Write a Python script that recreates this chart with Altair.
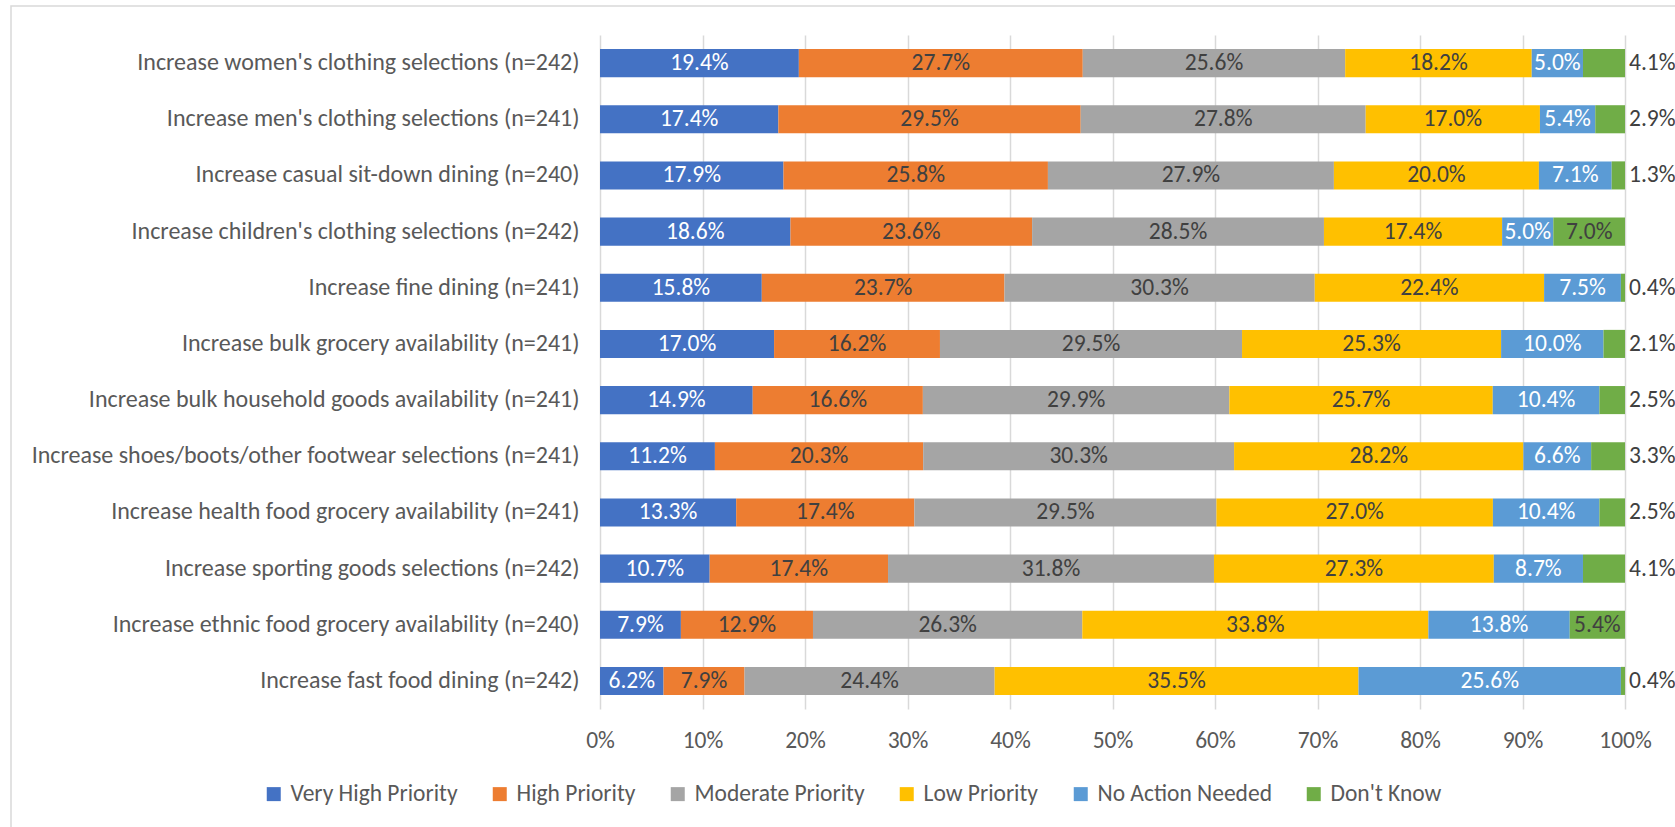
import altair as alt
import pandas as pd

# Survey items, top to bottom
categories = [
    "Increase women's clothing selections (n=242)",
    "Increase men's clothing selections (n=241)",
    "Increase casual sit-down dining (n=240)",
    "Increase children's clothing selections (n=242)",
    "Increase fine dining (n=241)",
    "Increase bulk grocery availability (n=241)",
    "Increase bulk household goods availability (n=241)",
    "Increase shoes/boots/other footwear selections (n=241)",
    "Increase health food grocery availability (n=241)",
    "Increase sporting goods selections (n=242)",
    "Increase ethnic food grocery availability (n=240)",
    "Increase fast food dining (n=242)",
]

series = [
    "Very High Priority",
    "High Priority",
    "Moderate Priority",
    "Low Priority",
    "No Action Needed",
    "Don't Know",
]

# Percentages per response level, in category order
very_high = [19.4, 17.4, 17.9, 18.6, 15.8, 17.0, 14.9, 11.2, 13.3, 10.7, 7.9, 6.2]
high = [27.7, 29.5, 25.8, 23.6, 23.7, 16.2, 16.6, 20.3, 17.4, 17.4, 12.9, 7.9]
moderate = [25.6, 27.8, 27.9, 28.5, 30.3, 29.5, 29.9, 30.3, 29.5, 31.8, 26.3, 24.4]
low = [18.2, 17.0, 20.0, 17.4, 22.4, 25.3, 25.7, 28.2, 27.0, 27.3, 33.8, 35.5]
no_action = [5.0, 5.4, 7.1, 5.0, 7.5, 10.0, 10.4, 6.6, 10.4, 8.7, 13.8, 25.6]
dont_know = [4.1, 2.9, 1.3, 7.0, 0.4, 2.1, 2.5, 3.3, 2.5, 4.1, 5.4, 0.4]

colors = ["#4472C4", "#ED7D31", "#A5A5A5", "#FFC000", "#5B9BD5", "#70AD47"]

values_by_series = [very_high, high, moderate, low, no_action, dont_know]

rows = []
for s_idx, (name, vals) in enumerate(zip(series, values_by_series)):
    for cat, v in zip(categories, vals):
        rows.append({"category": cat, "series": name, "order": s_idx, "value": v})
df = pd.DataFrame(rows)

FONT = "Carlito, Lato, sans-serif"
FS = 23.5

base = (
    alt.Chart(df)
    .transform_stack(
        stack="value",
        groupby=["category"],
        as_=["x0", "x1"],
        offset="normalize",
        sort=[alt.SortField("order", order="ascending")],
    )
    .transform_calculate(
        mid="(datum.x0 + datum.x1) / 2",
        label="format(datum.value, '.1f') + '%'",
        inside="datum.value >= 5",
        tc="(datum.series == 'Very High Priority' || datum.series == 'No Action Needed') ? 'white' : '#404040'",
    )
)

y_enc = alt.Y(
    "category:N",
    sort=categories,
    title=None,
    scale=alt.Scale(paddingInner=0.5, paddingOuter=0.25),
    axis=alt.Axis(
        domain=False,
        ticks=False,
        labelPadding=21,
        labelFont=FONT,
        labelFontSize=24,
        labelColor="#595959",
        labelLimit=700,
    ),
)

bars = base.mark_bar().encode(
    x=alt.X(
        "x0:Q",
        title=None,
        scale=alt.Scale(domain=[0, 1], nice=False),
        axis=alt.Axis(
            format="%",
            values=[i / 10 for i in range(11)],
            grid=True,
            gridColor="#d9d9d9",
            gridWidth=1.5,
            domain=False,
            ticks=False,
            labelFlush=False,
            labelPadding=19,
            labelFont=FONT,
            labelFontSize=FS,
            labelColor="#595959",
        ),
    ),
    x2="x1:Q",
    y=y_enc,
    color=alt.Color(
        "series:N",
        sort=series,
        scale=alt.Scale(domain=series, range=colors),
        legend=alt.Legend(
            title=None,
            orient="none",
            direction="horizontal",
            legendX=-338,
            legendY=747,
            symbolType="square",
            symbolSize=196,
            symbolStrokeWidth=0,
            labelFont=FONT,
            labelFontSize=FS,
            labelColor="#595959",
            labelOffset=5,
            columnPadding=30,
            labelLimit=400,
        ),
    ),
    order=alt.Order("order:Q"),
)

inside_text = (
    base.transform_filter("datum.inside")
    .mark_text(font=FONT, fontSize=FS, baseline="middle", align="center")
    .encode(
        x="mid:Q",
        y=alt.Y("category:N", sort=categories),
        text="label:N",
        color=alt.Color("tc:N", scale=None),
    )
)

outside_text = (
    base.transform_filter("!datum.inside")
    .mark_text(font=FONT, fontSize=FS, baseline="middle", align="left", dx=4, color="#404040")
    .encode(
        x="x1:Q",
        y=alt.Y("category:N", sort=categories),
        text="label:N",
    )
)

# Light outer frame around the chart area
frame = (
    alt.Chart(pd.DataFrame({"f": [0]}))
    .mark_rect(fill=None, stroke="#d9d9d9", strokeWidth=1.5, clip=False)
    .encode(
        x=alt.value(-589),
        x2=alt.value(1100),
        y=alt.value(-29),
        y2=alt.value(820),
    )
)

chart = (
    alt.layer(frame, bars, inside_text, outside_text)
    .properties(
        width=1025,
        height=674,
        autosize=alt.AutoSizeParams(type="none"),
        padding={"left": 600, "top": 35, "right": 50, "bottom": 118},
        background="white",
    )
    .configure_view(stroke=None)
)

chart.save("out.html", embed_options={"renderer": "svg", "actions": False})
